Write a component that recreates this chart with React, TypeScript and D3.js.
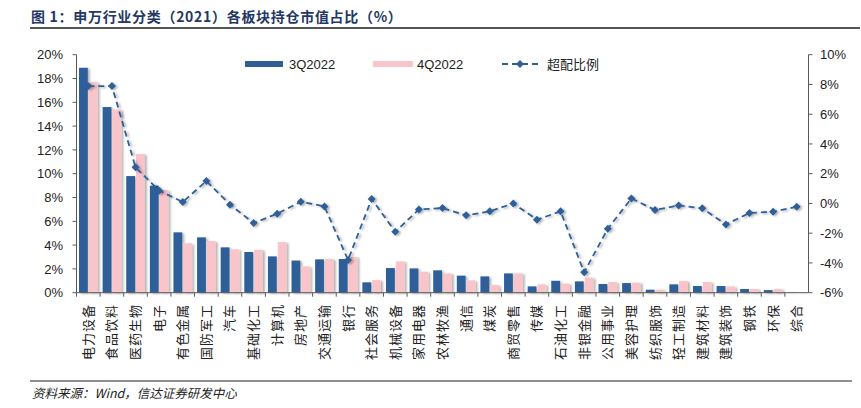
import React from "react";
import * as d3 from "d3";

const categories = [
  "电力设备", "食品饮料", "医药生物", "电子", "有色金属", "国防军工", "汽车", "基础化工",
  "计算机", "房地产", "交通运输", "银行", "社会服务", "机械设备", "家用电器", "农林牧渔",
  "通信", "煤炭", "商贸零售", "传媒", "石油化工", "非银金融", "公用事业", "美容护理",
  "纺织服饰", "轻工制造", "建筑材料", "建筑装饰", "钢铁", "环保", "综合",
];
const q3 = [
  18.9, 15.6, 9.8, 9.0, 5.07, 4.65, 3.81, 3.42, 3.05, 2.7, 2.8, 2.83, 0.87, 2.07, 2.04, 1.88,
  1.43, 1.37, 1.62, 0.53, 1.0, 0.95, 0.73, 0.81, 0.25, 0.7, 0.56, 0.56, 0.31, 0.22, 0.02,
];
const q4 = [
  17.7, 15.4, 11.65, 8.63, 4.15, 4.34, 3.64, 3.61, 4.25, 2.21, 2.83, 3.0, 1.06, 2.63, 1.76, 1.62,
  1.04, 0.64, 1.62, 0.7, 0.76, 1.26, 0.9, 0.84, 0.25, 0.98, 0.9, 0.53, 0.31, 0.31, 0.02,
];
const overweight = [
  7.89, 7.89, 2.43, 0.86, 0.1, 1.51, -0.08, -1.32, -0.69, 0.12, -0.2, -3.8, 0.3, -1.9, -0.4, -0.31,
  -0.8, -0.53, 0.0, -1.09, -0.53, -4.63, -1.7, 0.34, -0.44, -0.13, -0.33, -1.41, -0.64, -0.55, -0.22,
];
const leftTicks = [0, 2, 4, 6, 8, 10, 12, 14, 16, 18, 20];
const rightTicks = [-6, -4, -2, 0, 2, 4, 6, 8, 10];

const BLUE = "#2F5F98";
const PINK = "#F9C4CA";
const AXIS = "#595959";
const FONT = "'Liberation Sans', Arial, 'Noto Sans CJK SC', sans-serif";
const CJK = "'Noto Sans CJK SC', sans-serif";

export default function App() {
  const left = 76.5, right = 808.5, top = 54.7, bottom = 292.7;
  const x = d3.scaleBand<string>().domain(categories).range([left, right]);
  const yL = d3.scaleLinear().domain([0, 20]).range([bottom, top]);
  const yR = d3.scaleLinear().domain([-6, 10]).range([bottom, top]);
  const bw = 8.8;
  const cx = (i: number) => (x(categories[i]) as number) + x.bandwidth() / 2;

  const line = d3
    .line<number>()
    .x((_, i) => cx(i))
    .y((d) => yR(d));

  const diamond = (px: number, py: number, r = 4) =>
    `M${px},${py - r}L${px + r},${py}L${px},${py + r}L${px - r},${py}Z`;

  return (
    <svg
      width={861}
      height={408}
      style={{ position: "absolute", left: 0, top: 0, background: "#fff" }}
      fontFamily={FONT}
    >
      <defs>
        <filter id="sh" x="-30%" y="-10%" width="180%" height="130%">
          <feDropShadow dx="2" dy="1" stdDeviation="1" floodColor="#000" floodOpacity="0.3" />
        </filter>
      </defs>

      {/* title */}
      <text x={31} y={22} fontSize={14} fontWeight="bold" fill="#1F3864" fontFamily={CJK} letterSpacing={0.7}>
        图 1：申万行业分类（2021）各板块持仓市值占比（%）
      </text>
      <line x1={30} x2={860} y1={28} y2={28} stroke="#555" strokeWidth={2} />

      {/* bars */}
      <g filter="url(#sh)">
        {categories.map((c, i) => (
          <g key={c}>
            <rect
              x={cx(i) - bw - 0.5}
              width={bw}
              y={yL(q3[i])}
              height={bottom - yL(q3[i])}
              fill={BLUE}
            />
            <rect
              x={cx(i) + 0.5}
              width={bw}
              y={yL(q4[i])}
              height={bottom - yL(q4[i])}
              fill={PINK}
            />
          </g>
        ))}
      </g>

      {/* line */}
      <g filter="url(#sh)">
        <path d={line(overweight) || ""} fill="none" stroke={BLUE} strokeWidth={1.8} strokeDasharray="6,4" />
        {overweight.map((v, i) => (
          <path key={i} d={diamond(cx(i), yR(v))} fill={BLUE} />
        ))}
      </g>

      {/* axes */}
      <g stroke={AXIS} strokeWidth={1}>
        <line x1={left} x2={left} y1={top} y2={bottom} />
        <line x1={right} x2={right} y1={top} y2={bottom} />
        <line x1={left} x2={right} y1={bottom} y2={bottom} />
        {leftTicks.map((t) => (
          <line key={"l" + t} x1={left - 4} x2={left} y1={yL(t)} y2={yL(t)} />
        ))}
        {rightTicks.map((t) => (
          <line key={"r" + t} x1={right} x2={right + 4} y1={yR(t)} y2={yR(t)} />
        ))}
        {categories.map((c, i) => (
          <line key={"b" + c} x1={x(c)} x2={x(c)} y1={bottom} y2={bottom + 4} />
        ))}
      </g>
      {leftTicks.map((t) => (
        <text key={"lt" + t} x={63} y={yL(t)} dy="0.36em" textAnchor="end" fontSize={13} fill="#222">
          {t}%
        </text>
      ))}
      {rightTicks.map((t) => (
        <text key={"rt" + t} x={820} y={yR(t)} dy="0.36em" fontSize={13} fill="#222">
          {t}%
        </text>
      ))}

      {/* category labels */}
      {categories.map((c, i) => (
        <text
          key={"c" + c}
          transform={`translate(${cx(i) + 4.5},${304}) rotate(-90)`}
          textAnchor="end"
          fontSize={13}
          letterSpacing={1}
          fill="#222"
          fontFamily={CJK}
        >
          {c}
        </text>
      ))}

      {/* legend */}
      <rect x={245} y={61} width={38} height={6} fill={BLUE} />
      <text x={289} y={69} fontSize={13} fill="#222">3Q2022</text>
      <rect x={373} y={61} width={40} height={6} fill={PINK} />
      <text x={417} y={69} fontSize={13} fill="#222">4Q2022</text>
      <line x1={502} x2={538} y1={64} y2={64} stroke={BLUE} strokeWidth={1.8} strokeDasharray="6,4" />
      <path d={diamond(520, 64)} fill={BLUE} />
      <text x={547} y={69} fontSize={13} fill="#222" fontFamily={CJK}>超配比例</text>

      {/* footer */}
      <line x1={30} x2={852} y1={381} y2={381} stroke="#222" strokeWidth={1.2} />
      <text x={32} y={398} fontSize={12.5} fontStyle="italic" fill="#222" fontFamily={CJK}>
        资料来源：Wind，信达证券研发中心
      </text>
    </svg>
  );
}
